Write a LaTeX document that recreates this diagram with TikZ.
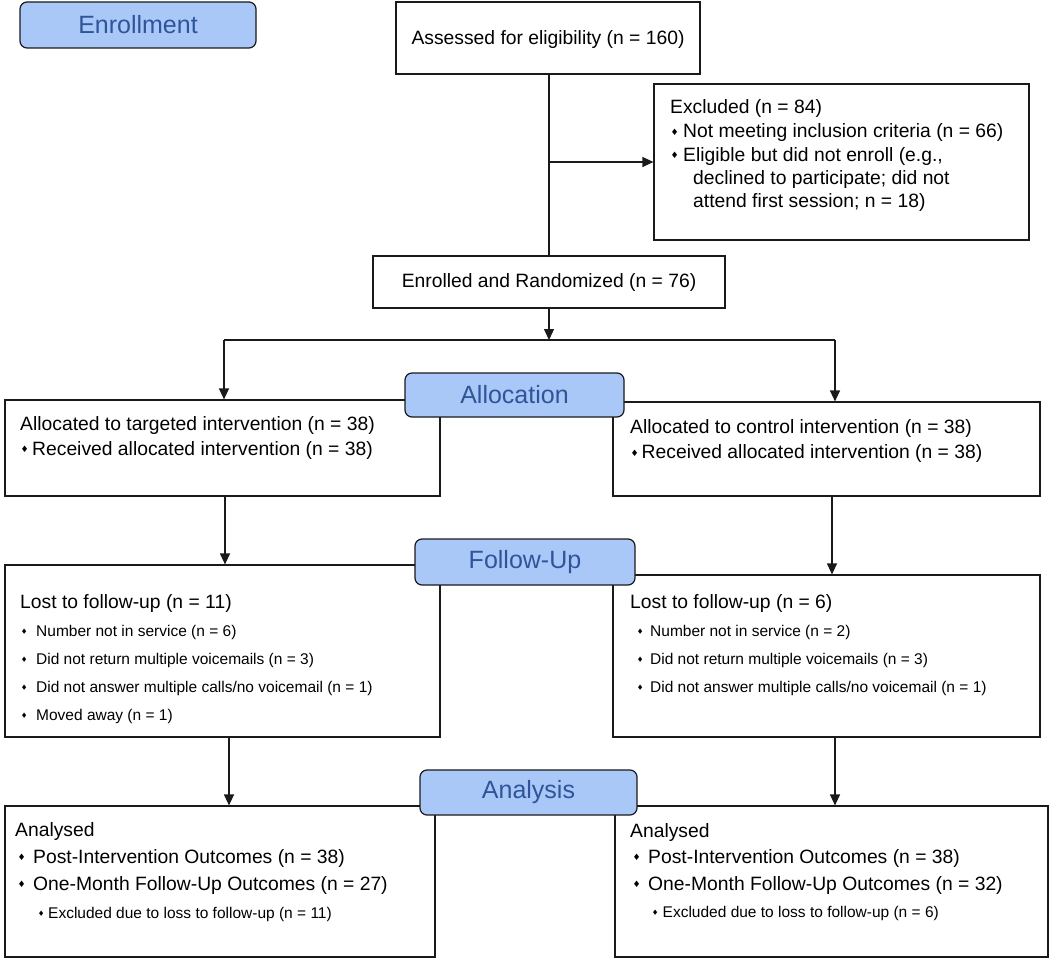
\documentclass[tikz,border=0pt]{standalone}
\usepackage{fontspec}
\usepackage{graphicx}
\setmainfont{Liberation Sans}
\newfontfamily\dejavu{DejaVu Sans}
\usetikzlibrary{arrows.meta}
\definecolor{tabfill}{HTML}{A9C8F8}
\definecolor{tabtext}{HTML}{2E559A}
\definecolor{edge}{HTML}{1A1A1A}
\newcommand\diam[1]{\scalebox{0.78}[1]{\dejavu\fontsize{#1}{#1}\selectfont ◆}}
% bullet: argument = distance from bullet left to text
\newcommand\bl[1]{\makebox[#1pt][l]{\raisebox{3.3pt}{\diam{8.5}}}}
\newcommand\bs[1]{\makebox[#1pt][l]{\raisebox{2.9pt}{\diam{7}}}}
\tikzset{
  box/.style={draw=edge, line width=1.2pt, rectangle, inner sep=0pt, fill=white},
  tab/.style={draw=edge, line width=1.2pt, rectangle, rounded corners=7pt, fill=tabfill,
    text=tabtext, font=\fontsize{25}{30}\selectfont, inner sep=0pt},
  txt/.style={anchor=mid west, inner sep=0pt, font=\fontsize{19.3}{23}\selectfont},
  txts/.style={anchor=mid west, inner sep=0pt, font=\fontsize{15.5}{19}\selectfont},
  ctr/.style={inner sep=0pt, font=\fontsize{19.3}{23}\selectfont},
  arr/.style={draw=edge, line width=1.2pt, -{Triangle[length=11pt,width=10pt]}},
  ln/.style={draw=edge, line width=1.2pt}
}
\begin{document}
\begin{tikzpicture}[x=1pt,y=-1pt]
\useasboundingbox (0,0) rectangle (1050,958);
% boxes
\node[box, minimum width=304pt, minimum height=72pt] (assess) at (548,38) {};
\node[box, minimum width=375pt, minimum height=156pt] (excl) at (841.5,162) {};
\node[box, minimum width=352pt, minimum height=52pt] (enrolled) at (549,282) {};
\node[box, minimum width=435pt, minimum height=96pt] (allocL) at (222.5,448) {};
\node[box, minimum width=427pt, minimum height=94pt] (allocR) at (826.5,449) {};
\node[box, minimum width=435pt, minimum height=172pt] (folL) at (222.5,651) {};
\node[box, minimum width=427pt, minimum height=162pt] (folR) at (826.5,656) {};
\node[box, minimum width=430pt, minimum height=151pt] (anaL) at (220,881.5) {};
\node[box, minimum width=433pt, minimum height=151pt] (anaR) at (831.5,881.5) {};
% connectors
\coordinate (br) at (549,162);
\coordinate (split) at (549,340);
\coordinate (sL) at (224,340);
\coordinate (sR) at (835,340);
\draw[ln] (assess.south -| enrolled.north) -- (enrolled.north);
\draw[arr] (br) -- (excl.west);
\draw[arr] (enrolled.south) -- (split);
\draw[ln] (sL) -- (sR);
\draw[arr] (sL) -- (sL |- allocL.north);
\draw[arr] (sR) -- (sR |- allocR.north);
\draw[arr] ([xshift=2.5pt]allocL.south) -- ([xshift=2.5pt]allocL.south |- folL.north);
\draw[arr] ([xshift=5.5pt]allocR.south) -- ([xshift=5.5pt]allocR.south |- folR.north);
\draw[arr] ([xshift=6.5pt]folL.south) -- ([xshift=6.5pt]folL.south |- anaL.north);
\draw[arr] ([xshift=8.5pt]folR.south) -- ([xshift=8.5pt]folR.south |- anaR.north);
% tabs
\node[tab, minimum width=236pt, minimum height=46pt] (tEnr) at (138,25) {Enrollment};
\node[tab, minimum width=219pt, minimum height=44pt] (tAll) at (514.5,395) {Allocation};
\node[tab, minimum width=220pt, minimum height=46pt] (tFol) at (525,562) {Follow-Up};
\node[tab, minimum width=217pt, minimum height=45pt] (tAna) at (528.5,792.5) {Analysis};
% texts
\node[ctr] (tAssess) at (548,40) {Assessed for eligibility (n = 160)};
\node[ctr] (tEnrolled) at (549,283) {Enrolled and Randomized (n = 76)};
\node[txt] (e1) at (670,111) {Excluded (n = 84)};
\node[txt] (e2) at (672,135) {\bl{11}Not meeting inclusion criteria (n = 66)};
\node[txt] (e3) at (672,158.5) {\bl{11}Eligible but did not enroll (e.g.,};
\node[txt] (e4) at (693,182) {declined to participate; did not};
\node[txt] (e5) at (693,205) {attend first session; n = 18)};
\node[txt] (aL1) at (20,428) {Allocated to targeted intervention (n = 38)};
\node[txt] (aL2) at (22,452.5) {\bl{10}Received allocated intervention (n = 38)};
\node[txt] (aR1) at (630,431) {Allocated to control intervention (n = 38)};
\node[txt] (aR2) at (632,456) {\bl{9.5}Received allocated intervention (n = 38)};
\node[txt] (fL1) at (20,606) {Lost to follow-up (n = 11)};
\node[txts] (fL2) at (22,633.5) {\bs{14}Number not in service (n = 6)};
\node[txts] (fL3) at (22,661.5) {\bs{14}Did not return multiple voicemails (n = 3)};
\node[txts] (fL4) at (22,689.5) {\bs{14}Did not answer multiple calls/no voicemail (n = 1)};
\node[txts] (fL5) at (22,717.5) {\bs{14}Moved away (n = 1)};
\node[txt] (fR1) at (630,606) {Lost to follow-up (n = 6)};
\node[txts] (fR2) at (638,633.5) {\bs{12}Number not in service (n = 2)};
\node[txts] (fR3) at (638,661.5) {\bs{12}Did not return multiple voicemails (n = 3)};
\node[txts] (fR4) at (638,689.5) {\bs{12}Did not answer multiple calls/no voicemail (n = 1)};
\node[txt] (nL1) at (15,834) {Analysed};
\node[txt] (nL2) at (19,860.5) {\bl{14}Post-Intervention Outcomes (n = 38)};
\node[txt] (nL3) at (19,887.5) {\bl{14}One-Month Follow-Up Outcomes (n = 27)};
\node[txts] (nL4) at (39,915.5) {\bs{9}Excluded due to loss to follow-up (n = 11)};
\node[txt] (nR1) at (630,835) {Analysed};
\node[txt] (nR2) at (634,860.5) {\bl{14}Post-Intervention Outcomes (n = 38)};
\node[txt] (nR3) at (634,887.5) {\bl{14}One-Month Follow-Up Outcomes (n = 32)};
\node[txts] (nR4) at (653,914.5) {\bs{9.5}Excluded due to loss to follow-up (n = 6)};
\end{tikzpicture}
\end{document}
